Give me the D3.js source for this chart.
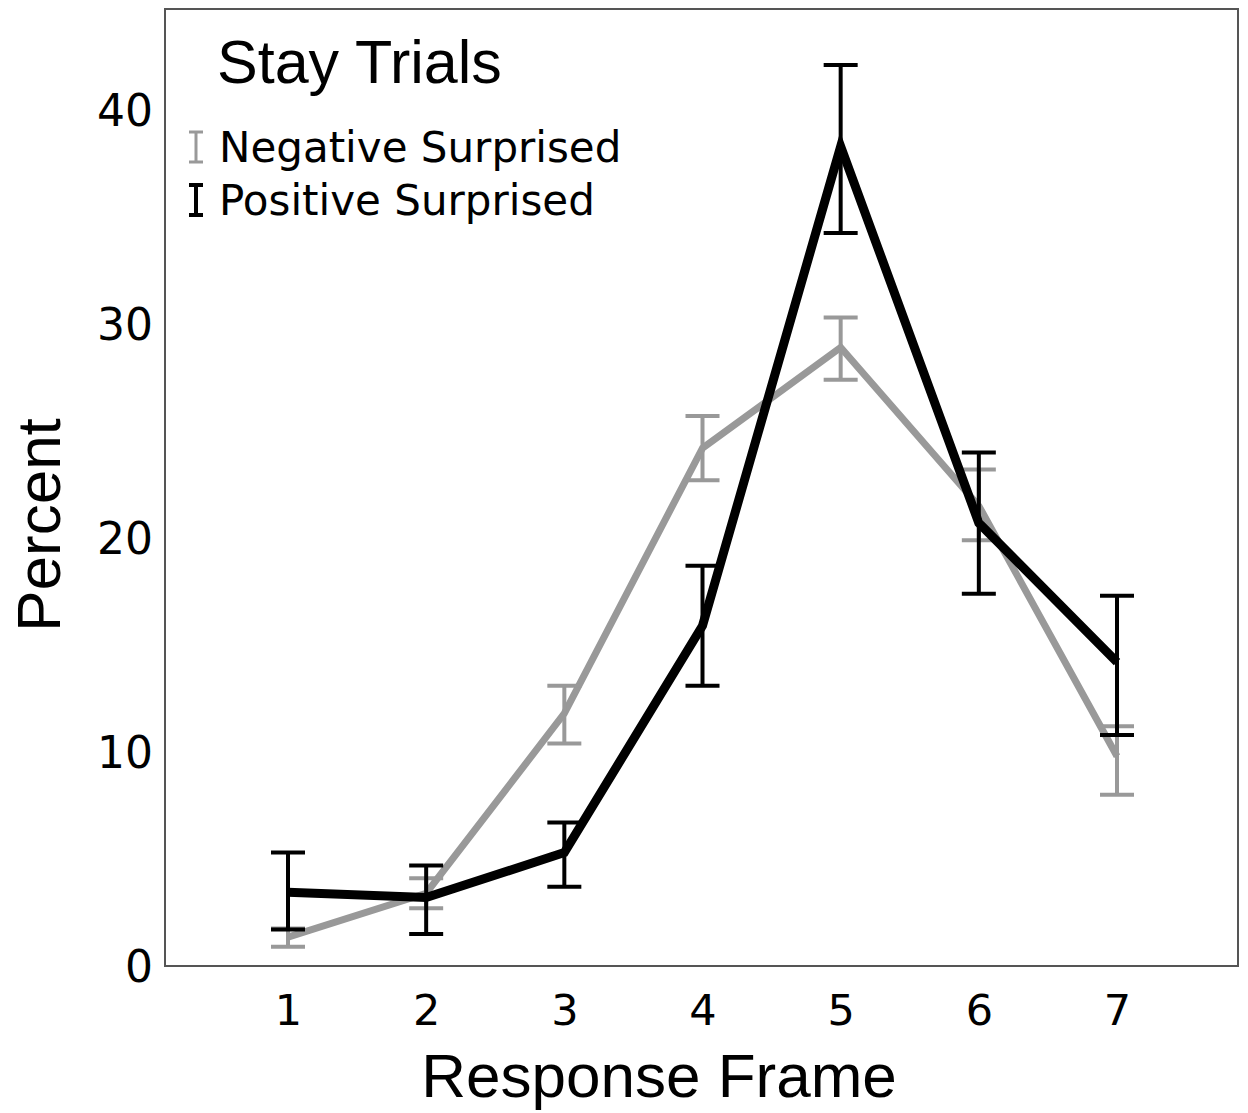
<!DOCTYPE html>
<html><head><meta charset="utf-8">
<script src="https://cdn.jsdelivr.net/npm/d3@7"></script>
<style>html,body{margin:0;padding:0;background:#fff;}</style>
</head><body>
<svg id="chart" width="1248" height="1113"></svg>
<script>
const frames = [1, 2, 3, 4, 5, 6, 7];
const negMean = [1.35, 3.4, 11.8, 24.2, 28.9, 21.5, 9.8];
const negHi   = [1.75, 4.1, 13.1, 25.7, 30.3, 23.2, 11.2];
const negLo   = [0.9, 2.7, 10.4, 22.7, 27.4, 19.9, 8.0];
const posMean = [3.45, 3.2, 5.3, 15.9, 38.3, 20.7, 14.2];
const posHi   = [5.3, 4.7, 6.7, 18.7, 42.1, 24.0, 17.3];
const posLo   = [1.7, 1.5, 3.7, 13.1, 34.25, 17.4, 10.8];
const yTicks = [0, 10, 20, 30, 40];
const seriesNames = ["Negative Surprised", "Positive Surprised"];

const svg = d3.select("#chart");
const L = 165, R = 1238, T = 9, B = 966;
const x = d3.scaleLinear().domain([1, 7]).range([288, 1117]);
const y = d3.scaleLinear().domain([0, 40]).range([966, 110]);

svg.append("rect").attr("x", L).attr("y", T).attr("width", R - L).attr("height", B - T)
  .attr("fill", "#fff").attr("stroke", "#555").attr("stroke-width", 2);

// Y axis labels
const yAxis = d3.axisLeft(y).tickValues(yTicks).tickSize(0).tickPadding(12);
const gy = svg.append("g").attr("transform", `translate(${L},0)`).call(yAxis);
gy.select(".domain").remove();
gy.selectAll("text").attr("font-family", "DejaVu Sans").attr("font-size", 44).attr("fill", "#000")
  .attr("dy", "0.36em");

// X axis labels
const xAxis = d3.axisBottom(x).tickValues(frames).tickFormat(d3.format("d")).tickSize(0).tickPadding(28);
const gx = svg.append("g").attr("transform", `translate(0,${B})`).call(xAxis);
gx.select(".domain").remove();
gx.selectAll("text").attr("font-family", "DejaVu Sans").attr("font-size", 43).attr("fill", "#000");

svg.append("text").attr("x", 659).attr("y", 1097).attr("text-anchor", "middle")
  .attr("font-family", "Liberation Sans").attr("font-size", 62).text("Response Frame");
svg.append("text").attr("transform", "translate(60,525) rotate(-90)").attr("text-anchor", "middle")
  .attr("font-family", "Liberation Sans").attr("font-size", 62).text("Percent");

function drawSeries(mean, hi, lo, color, lw) {
  const line = d3.line().x((d, i) => x(frames[i])).y(d => y(d));
  svg.append("path").datum(mean).attr("d", line).attr("fill", "none")
    .attr("stroke", color).attr("stroke-width", lw).attr("stroke-linejoin", "miter");
  const g = svg.append("g").attr("stroke", color).attr("stroke-width", 4).attr("fill", "none");
  frames.forEach((f, i) => {
    const cx = x(f), hw = 17;
    g.append("line").attr("x1", cx).attr("x2", cx).attr("y1", y(hi[i])).attr("y2", y(lo[i]));
    g.append("line").attr("x1", cx - hw).attr("x2", cx + hw).attr("y1", y(hi[i])).attr("y2", y(hi[i]));
    g.append("line").attr("x1", cx - hw).attr("x2", cx + hw).attr("y1", y(lo[i])).attr("y2", y(lo[i]));
  });
}
drawSeries(negMean, negHi, negLo, "#999", 7);
drawSeries(posMean, posHi, posLo, "#000", 9);

// Title and legend
svg.append("text").attr("x", 217).attr("y", 83).attr("font-family", "Liberation Sans")
  .attr("font-size", 61).text("Stay Trials");
const legColors = ["#999", "#000"];
seriesNames.forEach((name, i) => {
  const by = 162 + i * 53;
  const g = svg.append("g").attr("stroke", legColors[i]).attr("stroke-width", i ? 4 : 3);
  g.append("line").attr("x1", 196).attr("x2", 196).attr("y1", by - 30).attr("y2", by);
  g.append("line").attr("x1", 189).attr("x2", 203).attr("y1", by - 30).attr("y2", by - 30);
  g.append("line").attr("x1", 189).attr("x2", 203).attr("y1", by).attr("y2", by);
  svg.append("text").attr("x", 219).attr("y", by).attr("font-family", "DejaVu Sans")
    .attr("font-size", 42).text(name);
});
</script>
</body></html>
